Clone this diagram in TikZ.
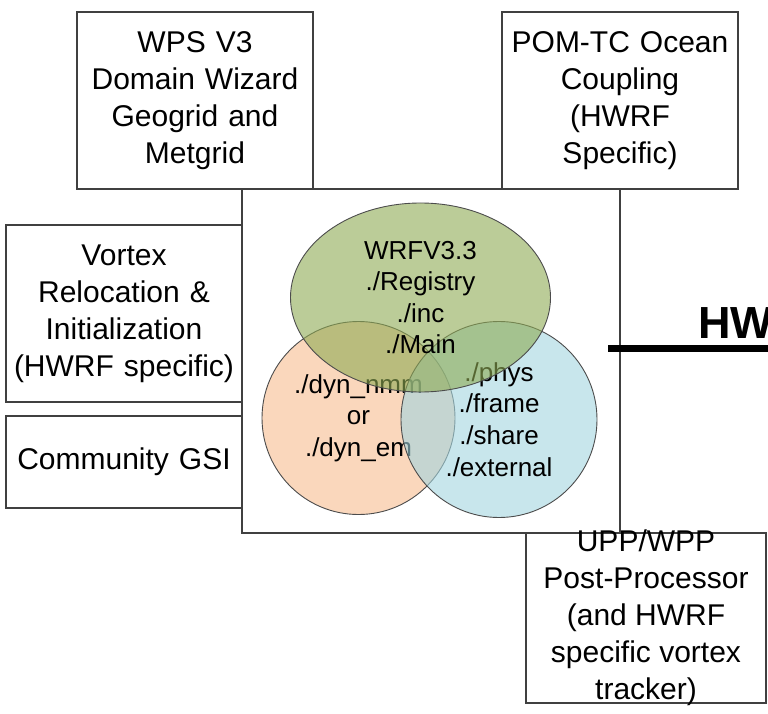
\documentclass[tikz,border=0pt]{standalone}
\usepackage{fontspec}
\setmainfont{Liberation Sans}
\usetikzlibrary{shapes.geometric}
\definecolor{wrfgreen}{RGB}{142,170,83}
\definecolor{dynorange}{RGB}{247,188,143}
\definecolor{physblue}{RGB}{163,213,223}

\begin{document}
\begin{tikzpicture}[x=1pt,y=-1pt,
    box/.style={draw=black!75,line width=1.1pt,fill=white,inner sep=0pt,align=center,
      font=\fontsize{30}{37}\selectfont},
    blob/.style={draw=black!70,line width=0.9pt,fill opacity=0.6,text opacity=1,
      inner sep=0pt,align=center,font=\fontsize{26}{31.6}\selectfont}]
  \clip (0,0) rectangle (768,714);

  \node[draw=black!75,line width=1.1pt,minimum width=378,minimum height=344] (core) at (431,361) {};

  \node[box,text width=236,minimum height=177] (wps) at (195,100.5)
    {WPS V3\\Domain Wizard\\Geogrid and\\Metgrid};
  \node[box,text width=236,minimum height=177] (pom) at (620,100.5)
    {POM-TC Ocean\\Coupling\\(HWRF\\Specific)};
  \node[box,text width=236,minimum height=177] (vortex) at (124,313.5)
    {Vortex\\Relocation \&\\Initialization\\(HWRF specific)};
  \node[box,text width=236,minimum height=92] (gsi) at (124,462) {Community GSI};
  \node[box,minimum width=240,minimum height=170] (upp) at (646,618) {};
  \node[align=center,inner sep=0pt,font=\fontsize{30}{37}\selectfont] (upptext) at (upp.center)
    {UPP/WPP\\Post-Processor\\(and HWRF\\specific vortex\\tracker)};

  \node[blob,circle,fill=dynorange,minimum size=193] (dyn) at (358.5,418)
    {./dyn\_nmm\\or\\./dyn\_em};
  \node[blob,circle,fill=physblue,minimum size=196] (phys) at (499,419.5)
    {./phys\\./frame\\./share\\./external};
  \node[blob,ellipse,fill=wrfgreen,minimum width=260,minimum height=189] (wrf) at (420.5,297.5)
    {WRFV3.3\\./Registry\\./inc\\./Main};

  \node[anchor=base west,inner sep=0pt,font=\fontsize{45}{54}\selectfont\bfseries] (hw) at (698,338) {HW};
  \coordinate (ul) at (608,348);
  \coordinate (ulend) at (780,348);
  \draw[line width=7pt] (ul) -- (ulend);
\end{tikzpicture}
\end{document}
